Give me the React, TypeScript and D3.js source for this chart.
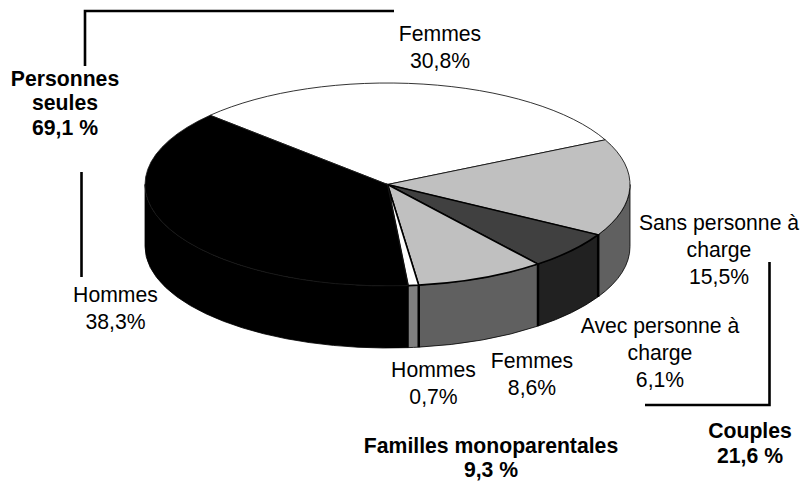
import React from "react";
import * as d3 from "d3";

const sliceNames = ["Femmes seules", "Sans personne", "Avec personne", "Femmes mono", "Hommes mono", "Hommes seuls"];
const sliceValues = [30.8, 15.5, 6.1, 8.6, 0.7, 38.3];
const topColors = ["#ffffff", "#c0c0c0", "#404040", "#c0c0c0", "#ffffff", "#000000"];
const sideColors = ["#ffffff", "#606060", "#212121", "#606060", "#808080", "#000000"];
const sliceLabels = [
  { lines: ["Femmes", "30,8%"], x: 440, y: 41 },
  { lines: ["Sans personne à", "charge", "15,5%"], x: 719, y: 230 },
  { lines: ["Avec personne à", "charge", "6,1%"], x: 660, y: 333 },
  { lines: ["Femmes", "8,6%"], x: 532, y: 368 },
  { lines: ["Hommes", "0,7%"], x: 433.5, y: 377 },
  { lines: ["Hommes", "38,3%"], x: 115.5, y: 302 },
];
const groupLabels = [
  { lines: ["Personnes", "seules", "69,1 %"], x: 65, y: 85.5 },
  { lines: ["Couples", "21,6 %"], x: 750, y: 438 },
  { lines: ["Familles monoparentales", "9,3 %"], x: 491, y: 452.5 },
];
const leaders = [
  [[85, 66], [85, 11], [394, 11]],
  [[81.5, 172], [81.5, 277]],
  [[769.5, 262], [769.5, 405], [645, 405]],
] as [number, number][][];

const cx = 387.5, cy = 184.5, rx = 242.5, ry = 101.5, depth = 62;
const startAngle = (-47 * Math.PI) / 180;
const px = (a: number) => cx + rx * Math.sin(a);
const py = (a: number) => cy - ry * Math.cos(a);

export default function App() {
  const arcs = d3.pie<number>().sort(null).startAngle(startAngle).endAngle(startAngle + 2 * Math.PI)(sliceValues);
  const arc = d3.arc<any>().innerRadius(0).outerRadius(rx);
  const line = d3.line();
  const sides = arcs
    .map((d, i) => {
      const a0 = Math.max(d.startAngle, Math.PI / 2);
      const a1 = Math.min(d.endAngle, (3 * Math.PI) / 2);
      if (a1 <= a0) return null;
      const p = `M${px(a0)},${py(a0)}A${rx},${ry} 0 0 1 ${px(a1)},${py(a1)}L${px(a1)},${py(a1) + depth}A${rx},${ry} 0 0 0 ${px(a0)},${py(a0) + depth}Z`;
      return { p, i, a0, a1 };
    })
    .filter(Boolean) as { p: string; i: number; a0: number; a1: number }[];
  const textStyle = { fontFamily: "'Liberation Sans', Arial, sans-serif", fontSize: 21.2, fill: "#000" };
  return (
    <svg width={802} height={481} style={{ position: "absolute", left: 0, top: 0, background: "#fff" }}>
      {sides.map((s) => (
        <path key={sliceNames[s.i]} d={s.p} fill={sideColors[s.i]} stroke="#000" strokeWidth={0.8} />
      ))}
      {sides.slice(1).map((s) => (
        <line key={s.i} x1={px(s.a0)} x2={px(s.a0)} y1={py(s.a0)} y2={py(s.a0) + depth} stroke="#000" strokeWidth={s.i === 5 ? 0 : 2.5} />
      ))}
      <g transform={`translate(${cx},${cy}) scale(1,${ry / rx})`}>
        {arcs.map((d, i) => (
          <path key={i} d={arc(d) as string} fill={topColors[i]} stroke={i === 5 ? "#1c1c1c" : "#000"} strokeWidth={i >= 2 && i <= 4 ? 1.6 : 0.8} vectorEffect="non-scaling-stroke" />
        ))}
      </g>
      {leaders.map((l, i) => (
        <path key={i} d={line(l) as string} fill="none" stroke="#000" strokeWidth={2.6} />
      ))}
      {sliceLabels.map((l) => (
        <text key={l.x} textAnchor="middle" style={textStyle}>
          {l.lines.map((t, j) => (
            <tspan key={j} x={l.x} y={l.y + j * 27}>{t}</tspan>
          ))}
        </text>
      ))}
      {groupLabels.map((l) => (
        <text key={l.x} textAnchor="middle" style={{ ...textStyle, fontWeight: 700 }}>
          {l.lines.map((t, j) => (
            <tspan key={j} x={l.x} y={l.y + j * 24.5}>{t}</tspan>
          ))}
        </text>
      ))}
    </svg>
  );
}
